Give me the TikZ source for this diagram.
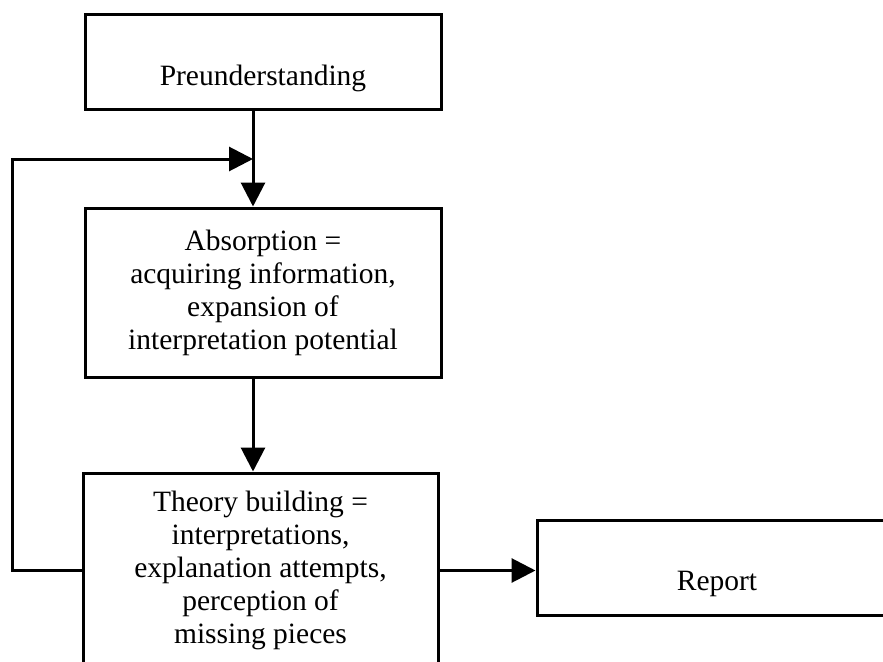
\documentclass[tikz,border=0pt]{standalone}
\usepackage{fontspec}
\setmainfont{Liberation Serif}
\usetikzlibrary{arrows.meta}
\begin{document}
\begin{tikzpicture}[x=1pt,y=-1pt,
  box/.style={draw,line width=3pt,rectangle,inner sep=0pt,font=\fontsize{29.5}{33}\selectfont},
  arr/.style={line width=3pt,-{Triangle[length=24pt,width=24pt]}}]
\useasboundingbox (0,0) rectangle (883,661);
\clip (0,0) rectangle (883,661);
\node[box,minimum width=356pt,text height=70pt,text depth=24pt] (pre) at (263,62) {Preunderstanding};
\node[box,minimum width=356pt,minimum height=169pt,align=center] (abs) at (263,292.5)
  {Absorption =\\acquiring information,\\expansion of\\interpretation potential};
\node[box,minimum width=355pt,minimum height=195pt,align=center] (thy) at (260.5,570.5)
  {Theory building =\\interpretations,\\explanation attempts,\\perception of\\missing pieces};
\node[box,minimum width=360pt,text height=70pt,text depth=25pt] (rep) at (717,567.5) {Report};
\coordinate (join) at (253,159);
\coordinate (fbc) at (12,159);
\draw[arr] (pre.south -| join) -- (abs.north -| join);
\draw[arr] (abs.south -| join) -- (thy.north -| join);
\draw[arr] (thy.west) -| (fbc) -- (join);
\draw[arr] (thy.east) -- (rep.west |- thy.east);
\end{tikzpicture}
\end{document}
